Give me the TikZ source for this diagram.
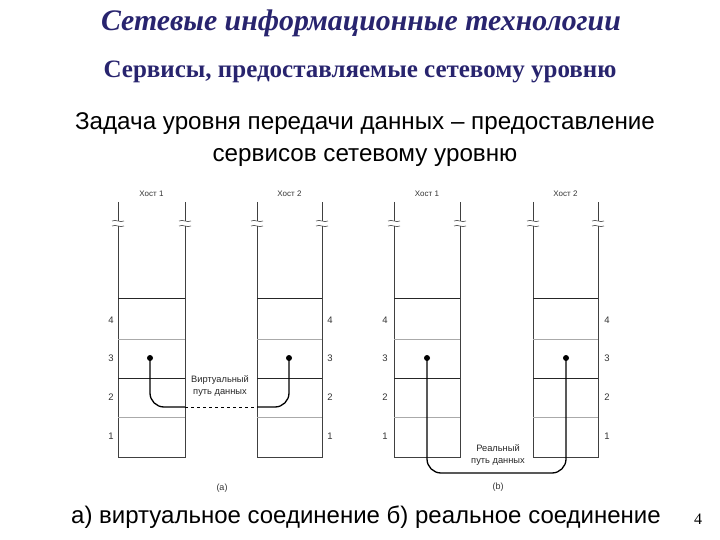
\documentclass[tikz,border=0pt]{standalone}
\usepackage{fontspec}
\setmainfont{Liberation Serif}
\newfontfamily\arialfont{Liberation Sans}
\definecolor{titleblue}{RGB}{40,36,110}
\definecolor{layergray}{RGB}{170,170,170}
\tikzset{
  hostside/.style={draw=black!75, line width=0.8pt},
  layersep/.style={draw=layergray, line width=0.6pt},
  layermain/.style={draw=black!85, line width=0.8pt},
  layernum/.style={font=\arialfont\fontsize{9.5}{11}\selectfont, text=black!80},
  hostlabel/.style={font=\arialfont\fontsize{8}{9}\selectfont, text=black!80},
  pathlabel/.style={font=\arialfont\fontsize{9.3}{12}\selectfont, align=center, text=black!85},
  datapath/.style={draw=black, line width=1.3pt, rounded corners=14pt},
  dot/.style={circle, fill=black, inner sep=0pt, minimum size=6pt},
  brk/.style={draw=black!70, line width=0.6pt},
}
\begin{document}
\begin{tikzpicture}[x=1pt,y=-1pt]
\useasboundingbox (0,0) rectangle (720,540);
\node[font=\bfseries\itshape\fontsize{29.8}{34}\selectfont, text=titleblue] (title) at (361,23) {Сетевые информационные технологии};
\node[font=\bfseries\fontsize{25}{29}\selectfont, text=titleblue] (sub) at (360,72) {Сервисы, предоставляемые сетевому уровню};
\node[font=\arialfont\fontsize{24.2}{32}\selectfont, align=center] (task) at (365,140) {Задача уровня передачи данных – предоставление\\сервисов сетевому уровню};
\node[font=\arialfont\fontsize{24}{27}\selectfont] (caption) at (366,517) {а) виртуальное соединение б) реальное соединение};
\node[font=\fontsize{16}{18}\selectfont] (pnum) at (698,519) {4};

\foreach \l/\r/\nm/\id in {118/185/Хост 1/a1, 257/322/Хост 2/a2, 394/460/Хост 1/b1, 533/598/Хост 2/b2}{
  \node[hostlabel] (h\id) at ({(\l+\r)/2},194) {\nm};
  \draw[hostside] (\l,202) -- (\l,221);
  \draw[hostside] (\l,226) -- (\l,457) -- (\r,457) -- (\r,226);
  \draw[hostside] (\r,221) -- (\r,202);
  \foreach \x in {\l,\r}{
    \draw[brk] (\x-6,221) .. controls (\x-2,219) and (\x+2,223) .. (\x+6,221);
    \draw[brk] (\x-6,226) .. controls (\x-2,224) and (\x+2,228) .. (\x+6,226);
  }
  \draw[layermain] (\l,298) -- (\r,298);
  \draw[layersep] (\l,339) -- (\r,339);
  \draw[layermain] (\l,378) -- (\r,378);
  \draw[layersep] (\l,417) -- (\r,417);
}
\foreach \x/\s in {111/aL, 330/aR, 385/bL, 607/bR}{
  \node[layernum] (n4\s) at (\x,320) {4};
  \node[layernum] (n3\s) at (\x,358) {3};
  \node[layernum] (n2\s) at (\x,397) {2};
  \node[layernum] (n1\s) at (\x,436) {1};
}

% (a) virtual path
\node[dot] (da1) at (150,358) {};
\node[dot] (da2) at (289,358) {};
\coordinate (va1) at (185,407);
\coordinate (va2) at (257,407);
\draw[datapath] (da1.center) |- (va1);
\draw[datapath, line width=1pt, dashed, rounded corners=0pt] (va1) -- (va2);
\draw[datapath] (va2) -| (da2.center);
\node[pathlabel] (vlabel) at (220,386) {Виртуальный\\путь данных};
\node[hostlabel, font=\arialfont\fontsize{9}{10}\selectfont] (capa) at (222,488) {(a)};

% (b) real path
\node[dot] (db1) at (427,358) {};
\node[dot] (db2) at (566,358) {};
\coordinate (rb) at (497,473);
\draw[datapath] (db1.center) |- (rb) -| (db2.center);
\node[pathlabel] (rlabel) at (498,455) {Реальный\\путь данных};
\node[hostlabel, font=\arialfont\fontsize{9}{10}\selectfont] (capb) at (498,487) {(b)};
\end{tikzpicture}
\end{document}
